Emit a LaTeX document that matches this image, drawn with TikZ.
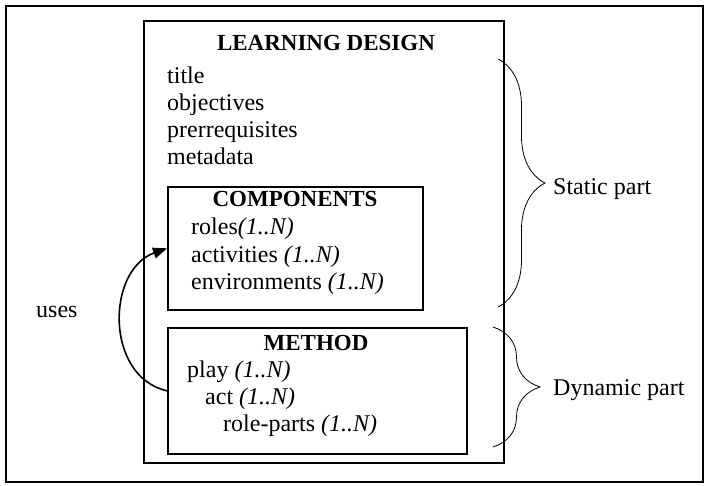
\documentclass[tikz,border=0pt]{standalone}
\usepackage{fontspec}
\setmainfont{Liberation Serif}
\usetikzlibrary{arrows.meta,decorations.pathreplacing}

\tikzset{
  frame/.style={draw, line width=1.6pt, anchor=north west, inner sep=0pt},
  txt/.style={anchor=base west, inner sep=0pt, font=\fontsize{24}{27}\selectfont},
  head/.style={anchor=base, inner sep=0pt, font=\fontsize{23}{27}\selectfont\bfseries},
  partbrace/.style={decorate, decoration={brace, amplitude=47pt}, line width=0.8pt},
  usesarrow/.style={line width=1.6pt, -{Triangle[length=14pt,width=11pt]}},
}

\begin{document}
\begin{tikzpicture}[x=1pt,y=-1pt]
  \useasboundingbox (0,0) rectangle (706,485);

  %Define nodes
  \node[frame, minimum width=697pt, minimum height=476pt] (outer) at (5,5) {};
  \node[frame, minimum width=360pt, minimum height=442pt] (ld) at (143,20) {};
  \node[frame, minimum width=255pt, minimum height=123pt] (comp) at (167,186) {};
  \node[frame, minimum width=299pt, minimum height=126pt] (meth) at (167,327) {};

  \node[head] (ldhead) at (326,50) {LEARNING DESIGN};
  \node[txt] (ltitle) at (167,83) {title};
  \node[txt] (lobj) at (167,110) {objectives};
  \node[txt] (lpre) at (167,137) {prerrequisites};
  \node[txt] (lmeta) at (167,164) {metadata};

  \node[head] (comphead) at (295,206) {COMPONENTS};
  \node[txt] (croles) at (191,234) {roles\textit{(1..N)}};
  \node[txt] (cact) at (191,262) {activities \textit{(1..N)}};
  \node[txt] (cenv) at (191,289) {environments \textit{(1..N)}};

  \node[head] (methhead) at (316,350) {METHOD};
  \node[txt] (mplay) at (187,377) {play \textit{(1..N)}};
  \node[txt] (mact) at (205,404) {act \textit{(1..N)}};
  \node[txt] (mroles) at (223,431) {role-parts \textit{(1..N)}};

  \node[txt] (uses) at (36,317) {uses};
  \node[txt] (static) at (553,194) {Static part};
  \node[txt] (dynamic) at (553,395) {Dynamic part};

  \coordinate (s1) at (498,59);
  \coordinate (s2) at (498,307);
  \coordinate (d1) at (493,327);
  \coordinate (d2) at (493,447);

  % Connect the nodes
  \draw[usesarrow] (meth.west) .. controls +(-62,-14) and +(-61,22) .. (comp.west);
  \draw[partbrace] (s1) -- (s2);
  \draw[partbrace] (d1) -- (d2);

\end{tikzpicture}
\end{document}
